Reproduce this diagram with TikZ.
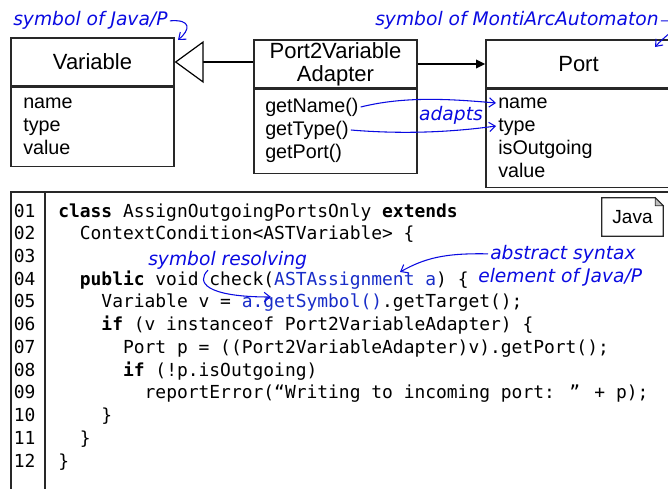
\documentclass[tikz,border=0pt]{standalone}
\usepackage{fontspec}
\setmainfont{Liberation Sans}
\newfontfamily\codefont{DejaVu Sans Mono}
\newfontfamily\notefont{DejaVu Sans}
\usetikzlibrary{positioning, arrows.meta, calc}
\definecolor{noteblue}{RGB}{10,10,225}
\definecolor{codeblue}{RGB}{25,45,200}
\definecolor{umlgray}{RGB}{40,40,40}

\begin{document}
\begin{tikzpicture}[x=0.75pt, y=-0.75pt]


\tikzset{umltitle/.style={draw=umlgray, line width=1pt, shape=rectangle, font=\fontsize{16.5}{17.25}\selectfont, align=center, inner sep=0}}
\tikzset{compartment/.style={draw=umlgray, line width=1pt, shape=rectangle, inner sep=0}}
\tikzset{attr/.style={anchor=base west, inner sep=1.5pt, font=\fontsize{14.8}{17}\selectfont, text height=10.5pt, text depth=3pt}}
\tikzset{handnote/.style={text=noteblue, inner sep=1.5pt, font=\notefont\itshape\fontsize{14}{16}\selectfont}}
\tikzset{handarrow/.style={draw=noteblue, line width=0.8pt, -{Straight Barb[length=4.5pt, width=7pt]}}}
\tikzset{generalize/.style={draw=black, line width=1.3pt, -{Triangle[open, fill=white, line width=0.9pt, length=21.75pt, width=31.5pt]}}}
\tikzset{assoc/.style={draw=black, line width=1.2pt, -{Triangle[length=7pt, width=6.5pt]}}}
\tikzset{codeframe/.style={draw=umlgray, line width=1pt}}
\tikzset{codeline/.style={anchor=base west, inner sep=0, font=\codefont\fontsize{13.45}{16}\selectfont}}
\tikzset{lineno/.style={codeline}}
\useasboundingbox (0,0) rectangle (668,489);
\node[umltitle, minimum width=122.25pt, minimum height=36pt] (varTitle) at (92.5,62) {Variable};
\node[compartment, minimum width=122.25pt, minimum height=59.25pt, below=0pt of varTitle] (varAttrs) {};
\node[umltitle, minimum width=122.25pt, minimum height=36pt] (adTitle) at (335.5,64) {Port2Variable\\Adapter};
\node[compartment, minimum width=122.25pt, minimum height=63pt, below=0pt of adTitle] (adAttrs) {};
\node[umltitle, minimum width=138.75pt, minimum height=36pt] (portTitle) at (578.5,64) {Port};
\node[compartment, minimum width=138.75pt, minimum height=73.5pt, below=0pt of portTitle] (portAttrs) {};
\node[attr] (varName) at (21,108) {name};
\node[attr] (varType) at (21,131) {type};
\node[attr] (varValue) at (21,154) {value};
\node[attr] (adName) at (263,112) {getName()};
\node[attr] (adType) at (263,135) {getType()};
\node[attr] (adPort) at (263,158) {getPort()};
\node[attr] (portName) at (496,108) {name};
\node[attr] (portType) at (496,131) {type};
\node[attr] (portOut) at (496,154) {isOutgoing};
\node[attr] (portValue) at (496,177) {value};
\draw[generalize] (adTitle.west |- varTitle.east) -- (varTitle.east);
\draw[assoc] (adTitle.east) -- (portTitle.west);
% notes on the model
\node[handnote, anchor=base west] (symJava) at (11,26) {symbol of Java/P};
\node[handnote, anchor=base west] (symMonti) at (373,26) {symbol of MontiArcAutomaton};
\node[handnote, anchor=base] (adapts) at (451,120) {adapts};
\coordinate (varCorner) at (178,40);
\coordinate (portCorner) at (655,47);
\draw[handarrow] (symJava.east) .. controls (192,19) and (190,30) .. (varCorner);
\draw[handarrow] (symMonti.east) .. controls (695,20) and (672,28) .. (portCorner);
\draw[handarrow] (adName.east) .. controls (405,96) and (450,99) .. (portName.west);
\draw[handarrow] (adType.east) .. controls (410,135) and (460,131) .. (portType.west);
% code listing
\draw[codeframe] (11,192) rectangle (690,500);
\draw[codeframe] (45,192) -- (45,500);
\node[lineno] (no01) at (13.5,217) {01};
\node[lineno] (no02) at (13.5,239.7) {02};
\node[lineno] (no03) at (13.5,262.5) {03};
\node[lineno] (no04) at (13.5,285.2) {04};
\node[lineno] (no05) at (13.5,307.9) {05};
\node[lineno] (no06) at (13.5,330.7) {06};
\node[lineno] (no07) at (13.5,353.4) {07};
\node[lineno] (no08) at (13.5,376.1) {08};
\node[lineno] (no09) at (13.5,398.8) {09};
\node[lineno] (no10) at (13.5,421.6) {10};
\node[lineno] (no11) at (13.5,444.3) {11};
\node[lineno] (no12) at (13.5,467) {12};
\node[codeline] (line01) at (58,217) {\textbf{class} AssignOutgoingPortsOnly \textbf{extends}};
\node[codeline] (line02) at (79.6,239.7) {ContextCondition<ASTVariable> \{};
\node[codeline] (line04) at (79.6,285.2) {\textbf{public} void check(\textcolor{codeblue}{ASTAssignment a}) \{};
\node[codeline] (line05) at (101.2,307.9) {Variable v = \textcolor{codeblue}{a.getSymbol()}.getTarget();};
\node[codeline] (line06) at (101.2,330.7) {\textbf{if} (v instanceof Port2VariableAdapter) \{};
\node[codeline] (line07) at (122.8,353.4) {Port p = ((Port2VariableAdapter)v).getPort();};
\node[codeline] (line08) at (122.8,376.1) {\textbf{if} (!p.isOutgoing)};
\node[codeline] (line09) at (144.4,398.8) {reportError(“Writing to incoming port: ” + p);};
\node[codeline] (line10) at (101.2,421.6) {\}};
\node[codeline] (line11) at (79.6,444.3) {\}};
\node[codeline] (line12) at (58,467) {\}};
% Java tag
\node[font=\fontsize{14.25}{16}\selectfont, minimum width=45.75pt, minimum height=28.5pt, inner sep=0] (javaTag) at (632.5,217) {Java};
\draw[codeframe] (javaTag.south west) -- (javaTag.north west) -- ([xshift=-6pt]javaTag.north east) -- ([yshift=-6pt]javaTag.north east) -- (javaTag.south east) -- cycle;
\draw[codeframe, fill=black!25, line width=0.6pt] ([xshift=-6pt]javaTag.north east) -- ([yshift=-6pt]javaTag.north east) -- ([xshift=-6pt, yshift=-6pt]javaTag.north east) -- cycle;
% notes on the code
\node[handnote, anchor=base west] (symRes) at (146,265) {symbol resolving};
\node[handnote, anchor=base west] (absLine1) at (488,259) {abstract syntax};
\node[handnote, anchor=base west] (absLine2) at (476,282) {element of Java/P};
\coordinate (getSymbolTop) at (271,297);
\coordinate (assignmentTop) at (400,272);
\draw[handarrow] ($(symRes.south west)+(62,-1)$) .. controls (196,282) and (205,297) .. (getSymbolTop);
\draw[handarrow] (absLine1.west) .. controls (445,253) and (425,258) .. (assignmentTop);

\end{tikzpicture}
\end{document}
